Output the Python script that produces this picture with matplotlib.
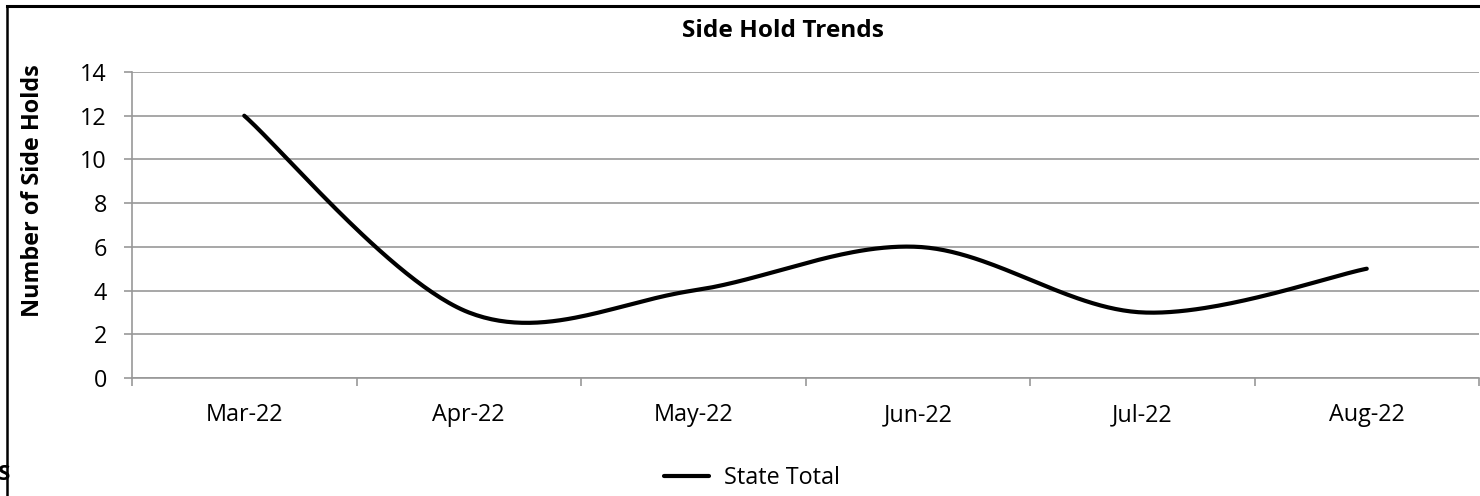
import matplotlib
matplotlib.use("Agg")
import matplotlib.pyplot as plt
from matplotlib.lines import Line2D
import numpy as np

months = ["Mar-22", "Apr-22", "May-22", "Jun-22", "Jul-22", "Aug-22"]
state_total = [12, 3, 4, 6, 3, 5]
y_ticks = [0, 2, 4, 6, 8, 10, 12, 14]

plt.rcParams['font.family'] = ['Open Sans', 'DejaVu Sans']
FS = 16.8

W, H = 1480, 496
fig = plt.figure(figsize=(W / 100, H / 100), dpi=100)
ax = fig.add_axes([132 / W, 1 - 378 / H, (1479 - 132) / W, (378 - 72) / H])


def smooth(xs, ys, n=60):
    # excel-like smoothed line (bezier, 1/6 tangents)
    xs = np.asarray(xs, float)
    ys = np.asarray(ys, float)
    px = np.concatenate([[xs[0]], xs, [xs[-1]]])
    py = np.concatenate([[ys[0]], ys, [ys[-1]]])
    ox, oy = [], []
    t = np.linspace(0, 1, n)
    for i in range(len(xs) - 1):
        j = i + 1
        x0, y0 = px[j], py[j]
        x3, y3 = px[j + 1], py[j + 1]
        x1 = x0 + (px[j + 1] - px[j - 1]) / 6
        y1 = y0 + (py[j + 1] - py[j - 1]) / 6
        x2 = x3 - (px[j + 2] - px[j]) / 6
        y2 = y3 - (py[j + 2] - py[j]) / 6
        a, b, c, d = (1 - t) ** 3, 3 * (1 - t) ** 2 * t, 3 * (1 - t) * t ** 2, t ** 3
        ox.append(a * x0 + b * x1 + c * x2 + d * x3)
        oy.append(a * y0 + b * y1 + c * y2 + d * y3)
    return np.concatenate(ox), np.concatenate(oy)


x = np.arange(len(months))
sx, sy = smooth(x, state_total)
line, = ax.plot(sx, sy, color='black', lw=3, solid_capstyle='round', label="State Total", zorder=3)

ax.set_xlim(-0.5, len(months) - 0.5)
ax.set_ylim(0, 14)
ax.set_yticks(y_ticks)
ax.set_xticks(x)
ax.set_xticklabels(months)
ax.set_xticks(np.arange(-0.5, len(months)), minor=True)
ax.grid(axis='y', color='#989898', lw=1.2)
ax.set_axisbelow(True)
for s in ['top', 'right']:
    ax.spines[s].set_visible(False)
for s in ['left', 'bottom']:
    ax.spines[s].set_color('#989898')
    ax.spines[s].set_linewidth(1.2)
ax.tick_params(axis='y', length=6, width=1.2, color='#989898', pad=12, labelsize=FS)
ax.tick_params(axis='x', which='major', length=0, pad=18, labelsize=FS)
ax.tick_params(axis='x', which='minor', length=6, width=1.2, color='#989898')

fig.text(783 / W, 1 - 31 / H, "Side Hold Trends", ha='center', va='center',
         fontsize=17.6, fontweight='bold')
fig.text(33 / W, 1 - 191 / H, "Number of Side Holds", ha='center', va='center',
         rotation=90, fontsize=FS, fontweight='bold')
fig.text(-2 / W, 1 - 474 / H, "S", ha='left', va='center', fontsize=16, fontweight='bold')

fig.legend(handles=[line], loc='center', bbox_to_anchor=(752 / W, 1 - 478 / H),
           frameon=False, fontsize=FS, handlelength=1.95, handletextpad=0.65)

# chart frame (cut off at right / bottom)
fig.add_artist(Line2D([7 / W, 1.01], [1 - 6 / H, 1 - 6 / H], color='black', lw=2.2))
fig.add_artist(Line2D([7 / W, 7 / W], [-0.01, 1 - 6 / H], color='black', lw=1.8))

fig.savefig("out.png", dpi=100, facecolor='white')
